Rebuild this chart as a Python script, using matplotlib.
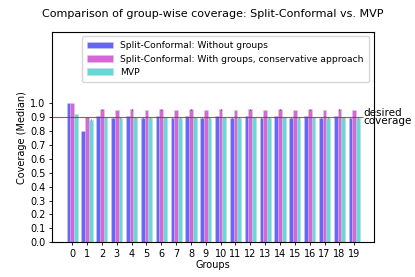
import matplotlib as mpl
mpl.use("Agg")
import matplotlib.pyplot as plt
import numpy as np

groups = list(range(20))
split_no_groups = [1.00, 0.80, 0.905, 0.895, 0.905, 0.895, 0.905, 0.895, 0.905, 0.895,
                   0.905, 0.895, 0.905, 0.895, 0.905, 0.895, 0.905, 0.895, 0.905, 0.895]
split_groups = [1.00, 0.90, 0.955, 0.95, 0.955, 0.95, 0.955, 0.95, 0.955, 0.95,
                0.955, 0.95, 0.955, 0.95, 0.955, 0.95, 0.955, 0.95, 0.955, 0.95]
mvp = [0.92, 0.88, 0.90, 0.895, 0.90, 0.895, 0.90, 0.895, 0.90, 0.895,
       0.90, 0.895, 0.90, 0.895, 0.90, 0.895, 0.90, 0.895, 0.90, 0.895]
target = 0.9

labels = ["Split-Conformal: Without groups",
          "Split-Conformal: With groups, conservative approach",
          "MVP"]

fig, ax = plt.subplots(figsize=(4.15, 2.77), dpi=100)
fig.subplots_adjust(left=0.125, right=0.9, top=0.885, bottom=0.125)

x = np.arange(len(groups))
w = 0.25
for i, (vals, col, lab) in enumerate(zip([split_no_groups, split_groups, mvp], ["b", "m", "c"], labels)):
    ax.bar(x + (i - 1) * w, vals, width=w, color=col, alpha=0.6, label=lab,
           edgecolor="lightgray", linewidth=0.5,
           yerr=0.002, ecolor="k", error_kw=dict(elinewidth=0.4))

ax.hlines(target, -1.37, 19.6, color="r", linewidth=0.8, alpha=0.8)
ax.text(19.6, target, "desired\ncoverage", va="center", ha="left", fontsize=7.5, linespacing=0.8)

ax.set_xlim(-1.37, 20.3)
ax.set_ylim(0, 1.51)
ax.set_yticks(np.arange(0, 1.01, 0.1))
ax.set_xticks(x)
ax.tick_params(axis="both", labelsize=7, length=2.5, width=0.6, pad=2)
ax.set_xlabel("Groups", fontsize=7, labelpad=1)
ax.set_ylabel("Coverage (Median)", fontsize=7, labelpad=2)
ax.set_title("Comparison of group-wise coverage: Split-Conformal vs. MVP", fontsize=8, pad=11)
ax.legend(loc="upper right", fontsize=6.6, handlelength=2.8, borderpad=0.55, labelspacing=0.45)
for s in ax.spines.values():
    s.set_linewidth(0.8)

fig.savefig("out.png", dpi=100)
plt.close()
